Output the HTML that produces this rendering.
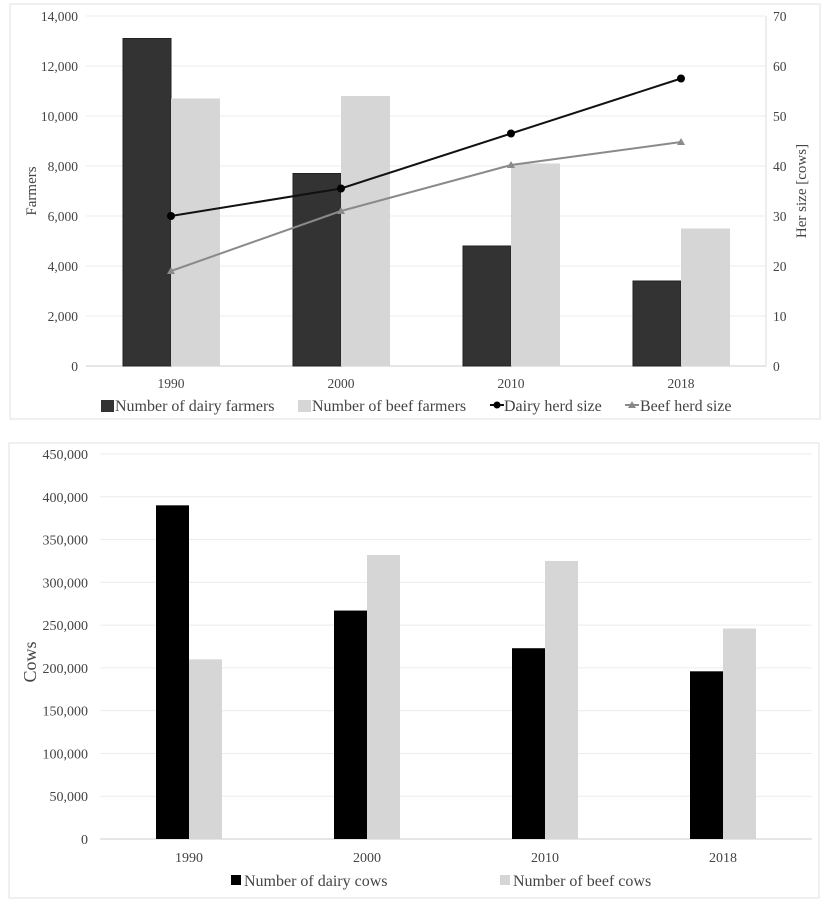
<!DOCTYPE html>
<html><head><meta charset="utf-8"><style>
body{margin:0;background:#fff;width:829px;height:904px;overflow:hidden}
svg text{font-family:"Liberation Serif",serif;fill:#444}
</style></head><body>
<svg width="829" height="904" id="svg">
<rect x="10" y="4" width="810" height="415" fill="#fff" stroke="#e2e2e2"/>
<rect x="9" y="443" width="810" height="455" fill="#fff" stroke="#e2e2e2"/>
<g id="top"></g><g id="bot"></g>
</svg>
<script>
const cats=["1990","2000","2010","2018"];
const dairyFarmers=[13100,7700,4800,3400];
const beefFarmers=[10700,10800,8100,5500];
const dairyHerd=[30,35.5,46.5,57.5];
const beefHerd=[19,31,40.2,44.8];
const leftTicks=[0,2000,4000,6000,8000,10000,12000,14000];
const rightTicks=[0,10,20,30,40,50,60,70];
const dairyCows=[390000,267000,223000,196000];
const beefCows=[210000,332000,325000,246000];
const cowTicks=[0,50000,100000,150000,200000,250000,300000,350000,400000,450000];
const NS="http://www.w3.org/2000/svg";
function mk(p,t,a,txt){const e=document.createElementNS(NS,t);for(const k in a)e.setAttribute(k,a[k]);if(txt!=null)e.textContent=txt;p.appendChild(e);return e;}
const fmt=v=>v.toLocaleString("en-US");
// top chart
const T=document.getElementById("top");
const tL=86,tR=766,tTop=16,tBot=366;
const yL=v=>tBot-(v/14000)*(tBot-tTop);
const yR=v=>tBot-(v/70)*(tBot-tTop);
const xT=i=>tL+(i+0.5)*(tR-tL)/4;
leftTicks.forEach((v,i)=>{let g=mk(T,"line",{x1:tL,x2:tR,y1:yL(v),y2:yL(v),stroke:i?"#ececec":"#ccc"});

let t=mk(T,"text",{x:tL-8,y:yL(v)+5,"text-anchor":"end","font-size":"13.5"},fmt(v));
});
rightTicks.forEach(v=>{let t=mk(T,"text",{x:773,y:yR(v)+5,"font-size":"13.5"},v);
});
mk(T,"line",{x1:tR,x2:tR,y1:tTop,y2:tBot,stroke:"#ddd"});
cats.forEach((c,i)=>{const cx=xT(i);
let b=mk(T,"rect",{x:cx-48,y:yL(dairyFarmers[i]),width:48,height:tBot-yL(dairyFarmers[i]),fill:"#333",stroke:"#222"});

let b2=mk(T,"rect",{x:cx,y:yL(beefFarmers[i]),width:49,height:tBot-yL(beefFarmers[i]),fill:"#d6d6d6"});

let t=mk(T,"text",{x:cx,y:388,"text-anchor":"middle","font-size":"13.5"},c);
});
let lb=mk(T,"polyline",{points:beefHerd.map((v,i)=>xT(i)+","+yR(v)).join(" "),fill:"none",stroke:"#8a8a8a","stroke-width":2});

let ld=mk(T,"polyline",{points:dairyHerd.map((v,i)=>xT(i)+","+yR(v)).join(" "),fill:"none",stroke:"#111","stroke-width":2});

dairyHerd.forEach((v,i)=>{let p=mk(T,"circle",{cx:xT(i),cy:yR(v),r:4,fill:"#000"});
});
beefHerd.forEach((v,i)=>{const x=xT(i),y=yR(v);let p=mk(T,"polygon",{points:`${x},${y-4} ${x-4},${y+3} ${x+4},${y+3}`,fill:"#8a8a8a"});
});
let yt=mk(T,"text",{x:0,y:0,transform:"translate(36,191) rotate(-90)","text-anchor":"middle","font-size":"15",fill:"#333"},"Farmers");

let yt2=mk(T,"text",{x:0,y:0,transform:"translate(806,191) rotate(-90)","text-anchor":"middle","font-size":"15",fill:"#333"},"Her size [cows]");

// top legend
function legSq(p,x,y,col,label,name){let g=mk(p,"g",{});
mk(g,"rect",{x:x,y:y-11,width:13,height:12,fill:col});mk(g,"text",{x:x+14,y:y,"font-size":"16",fill:"#333"},label);}
legSq(T,101,411,"#333","Number of dairy farmers","legend-dairy-farmers");
legSq(T,298,411,"#d6d6d6","Number of beef farmers","legend-beef-farmers");
let g1=mk(T,"g",{});
mk(g1,"line",{x1:490,x2:504,y1:405,y2:405,stroke:"#111","stroke-width":2});mk(g1,"circle",{cx:497,cy:405,r:3.5,fill:"#000"});
mk(g1,"text",{x:504,y:411,"font-size":"16",fill:"#333"},"Dairy herd size");
let g2=mk(T,"g",{});
mk(g2,"line",{x1:625,x2:639,y1:405,y2:405,stroke:"#8a8a8a","stroke-width":2});mk(g2,"polygon",{points:"632,401 628,408 636,408",fill:"#8a8a8a"});
mk(g2,"text",{x:640,y:411,"font-size":"16",fill:"#333"},"Beef herd size");
// bottom chart
const B=document.getElementById("bot");
const bL=100,bR=812,bTop=454,bBot=839;
const yB=v=>bBot-(v/450000)*(bBot-bTop);
const xB=i=>bL+(i+0.5)*(bR-bL)/4;
cowTicks.forEach((v,i)=>{let g=mk(B,"line",{x1:bL,x2:bR,y1:yB(v),y2:yB(v),stroke:i?"#ececec":"#ccc"});

let t=mk(B,"text",{x:bL-12,y:yB(v)+5,"text-anchor":"end","font-size":"14"},fmt(v));
});
cats.forEach((c,i)=>{const cx=xB(i);
let b=mk(B,"rect",{x:cx-33,y:yB(dairyCows[i]),width:33,height:bBot-yB(dairyCows[i]),fill:"#000"});

let b2=mk(B,"rect",{x:cx,y:yB(beefCows[i]),width:33,height:bBot-yB(beefCows[i]),fill:"#d6d6d6"});

let t=mk(B,"text",{x:cx,y:862,"text-anchor":"middle","font-size":"14"},c);
});
let yt3=mk(B,"text",{x:0,y:0,transform:"translate(36,662) rotate(-90)","text-anchor":"middle","font-size":"18",fill:"#222"},"Cows");

let g3=mk(B,"g",{});
mk(g3,"rect",{x:231,y:875,width:10,height:10,fill:"#000"});mk(g3,"text",{x:244,y:886,"font-size":"16",fill:"#222"},"Number of dairy cows");
let g4=mk(B,"g",{});
mk(g4,"rect",{x:500,y:875,width:10,height:10,fill:"#d6d6d6"});mk(g4,"text",{x:513,y:886,"font-size":"16",fill:"#222"},"Number of beef cows");
</script>
</body></html>
